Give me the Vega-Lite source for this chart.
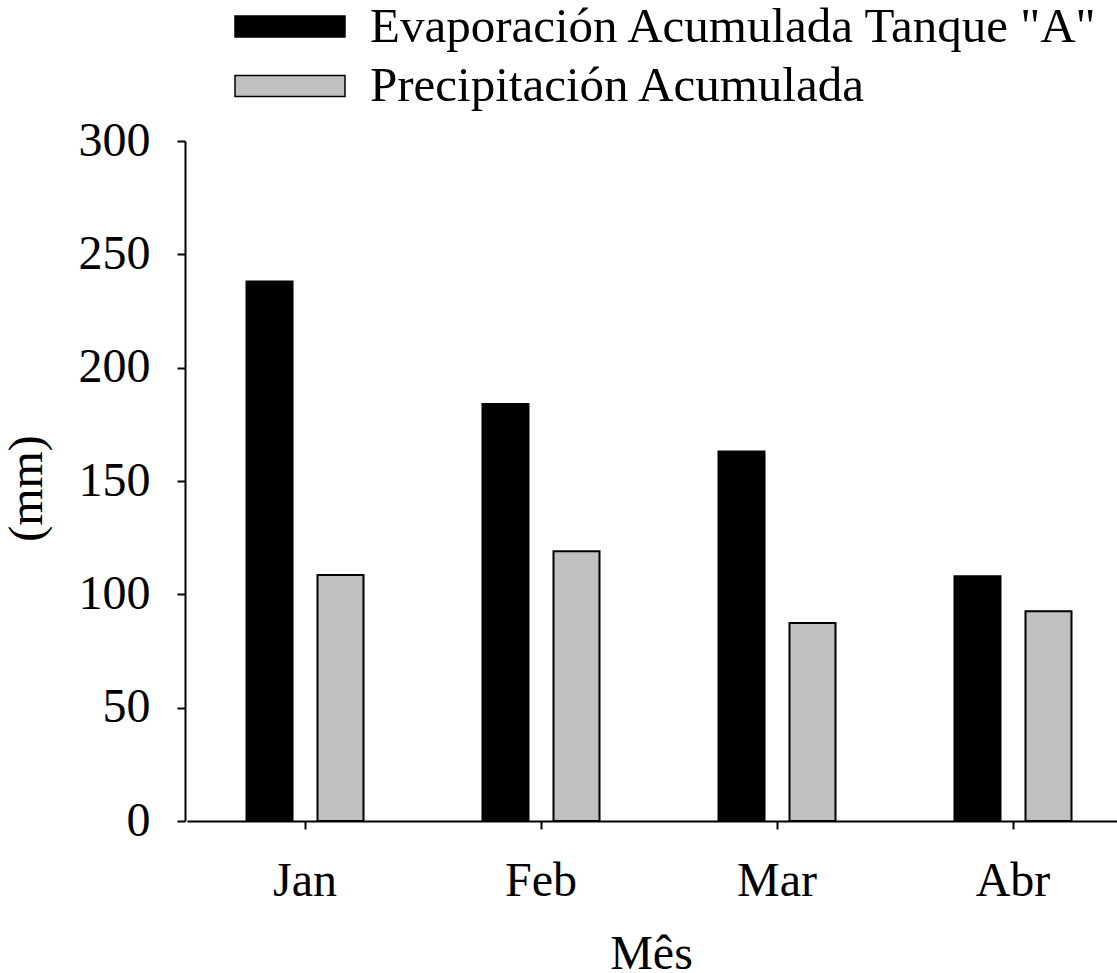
{
  "$schema": "https://vega.github.io/schema/vega-lite/v6.json",
  "width": 932,
  "height": 680,
  "autosize": {"type": "none"},
  "padding": {"left": 185, "top": 141, "right": 0, "bottom": 152},
  "background": "white",
  "config": {
    "font": "Liberation Serif",
    "view": {"stroke": null},
    "axis": {
      "domainColor": "#000000",
      "domainWidth": 2,
      "tickColor": "#000000",
      "tickWidth": 2,
      "labelColor": "#000000",
      "titleColor": "#000000",
      "labelFont": "Liberation Serif",
      "titleFont": "Liberation Serif",
      "titleFontWeight": "normal",
      "grid": false
    }
  },
  "data": {
    "values": [
      {"mes": "Jan", "serie": "Evaporación Acumulada Tanque \"A\"", "mm": 238},
      {"mes": "Jan", "serie": "Precipitación Acumulada", "mm": 108.5},
      {"mes": "Feb", "serie": "Evaporación Acumulada Tanque \"A\"", "mm": 184},
      {"mes": "Feb", "serie": "Precipitación Acumulada", "mm": 119},
      {"mes": "Mar", "serie": "Evaporación Acumulada Tanque \"A\"", "mm": 163},
      {"mes": "Mar", "serie": "Precipitación Acumulada", "mm": 87.3},
      {"mes": "Abr", "serie": "Evaporación Acumulada Tanque \"A\"", "mm": 108},
      {"mes": "Abr", "serie": "Precipitación Acumulada", "mm": 92.5}
    ]
  },
  "mark": {"type": "bar", "stroke": "#000000", "strokeWidth": 2},
  "encoding": {
    "x": {
      "field": "mes",
      "type": "nominal",
      "sort": ["Jan", "Feb", "Mar", "Abr"],
      "scale": {"range": [2, 946], "paddingInner": 0, "paddingOuter": 0},
      "axis": {
        "title": "Mês",
        "labelAngle": 0,
        "labelFontSize": 48,
        "labelPadding": 28,
        "tickSize": 8,
        "titleFontSize": 48,
        "titlePadding": 25,
        "titleX": 466
      }
    },
    "xOffset": {
      "field": "serie",
      "type": "nominal",
      "sort": ["Evaporación Acumulada Tanque \"A\"", "Precipitación Acumulada"],
      "scale": {"paddingInner": 0.352, "paddingOuter": 0.838}
    },
    "y": {
      "field": "mm",
      "type": "quantitative",
      "scale": {"domain": [0, 300], "nice": false},
      "axis": {
        "title": "(mm)",
        "values": [0, 50, 100, 150, 200, 250, 300],
        "labelFontSize": 48,
        "labelPadding": 27,
        "tickSize": 8,
        "titleFontSize": 48,
        "titlePadding": 27,
        "titleY": 347
      }
    },
    "color": {
      "field": "serie",
      "type": "nominal",
      "scale": {
        "domain": ["Evaporación Acumulada Tanque \"A\"", "Precipitación Acumulada"],
        "range": ["#000000", "#c0c0c0"]
      },
      "legend": {
        "title": null,
        "orient": "none",
        "legendX": 80.5,
        "legendY": -139,
        "padding": 0,
        "symbolType": "M-5,-0.95L5,-0.95L5,0.95L-5,0.95Z",
        "symbolSize": 484,
        "symbolStrokeColor": "#000000",
        "symbolStrokeWidth": 1.5,
        "symbolOpacity": 1,
        "labelFontSize": 49,
        "labelFont": "Liberation Serif",
        "labelColor": "#000000",
        "labelOffset": 55.5,
        "rowPadding": 9.5,
        "labelLimit": 1000
      }
    }
  }
}
